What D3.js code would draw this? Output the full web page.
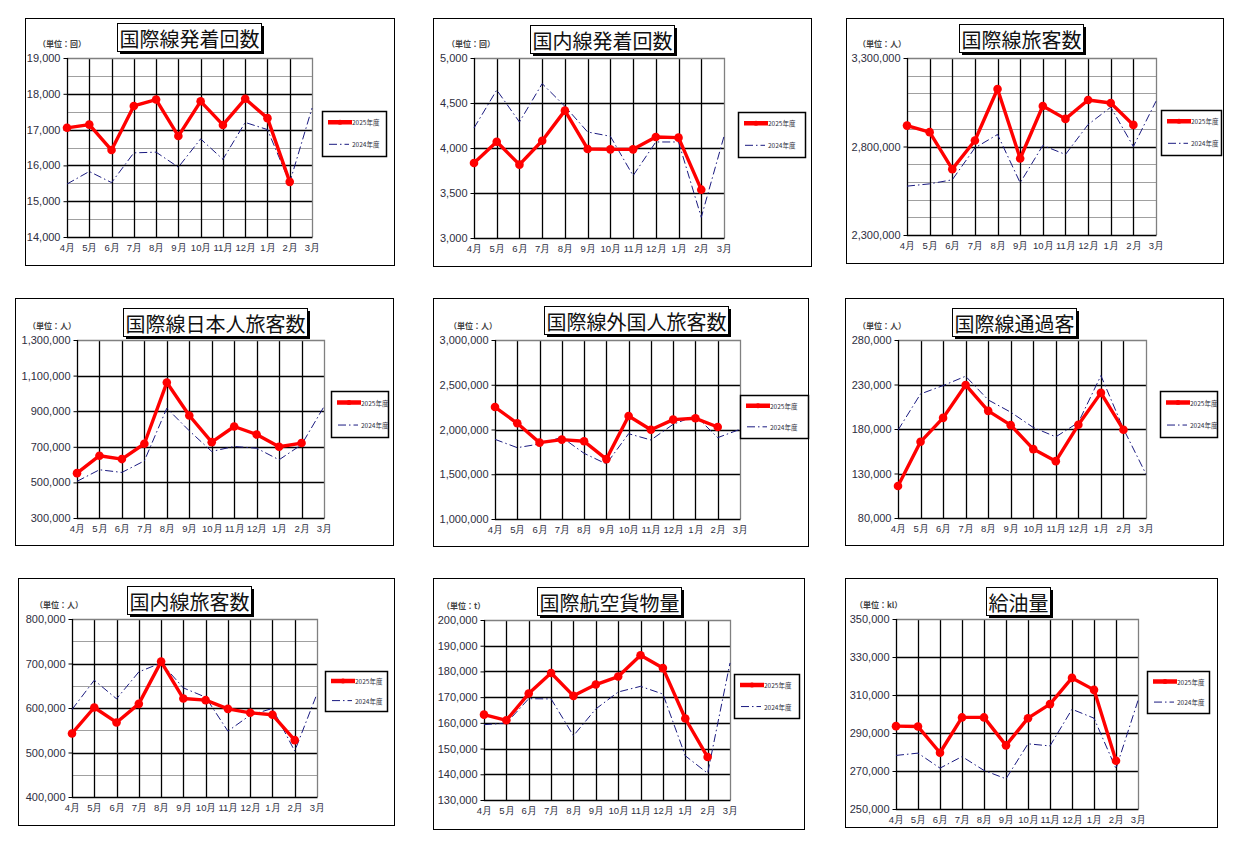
<!DOCTYPE html>
<html>
<head>
<meta charset="utf-8">
<script src="https://cdn.jsdelivr.net/npm/d3@7"></script>
<style>
  body { margin: 0; background: #fff; }
  svg { display: block; font-family: "Noto Sans CJK JP", "Noto Sans", sans-serif; }
</style>
</head>
<body>
<div id="chart"></div>
<script>
const months = ['4月', '5月', '6月', '7月', '8月', '9月', '10月', '11月', '12月', '1月', '2月', '3月'];
const seriesNames = ['2025年度', '2024年度'];

// 国際線発着回数
const intlFlights2025 = [17050, 17140, 16430, 17660, 17840, 16820, 17790, 17130, 17860, 17320, 15540];
const intlFlights2024 = [15480, 15830, 15520, 16350, 16370, 15950, 16740, 16170, 17200, 17000, 15520, 17600];
// 国内線発着回数
const domFlights2025 = [3833, 4070, 3815, 4081, 4415, 3989, 3985, 3985, 4122, 4115, 3537];
const domFlights2024 = [4222, 4644, 4289, 4715, 4463, 4178, 4130, 3693, 4067, 4067, 3230, 4130];
// 国際線旅客数
const intlPax2025 = [2918000, 2881000, 2672000, 2834000, 3125000, 2732000, 3029000, 2956000, 3063000, 3046000, 2922000];
const intlPax2024 = [2576000, 2589000, 2612000, 2792000, 2868000, 2595000, 2806000, 2755000, 2924000, 3022000, 2800000, 3056000];
// 国際線日本人旅客数
const jpPax2025 = [552000, 650000, 631000, 717000, 1061000, 876000, 726000, 814000, 769000, 700000, 721000];
const jpPax2024 = [506000, 571000, 556000, 621000, 917000, 790000, 674000, 702000, 692000, 627000, 712000, 926000];
// 国際線外国人旅客数
const fgPax2025 = [2251000, 2069000, 1853000, 1887000, 1868000, 1669000, 2151000, 1998000, 2110000, 2125000, 2028000];
const fgPax2024 = [1890000, 1797000, 1838000, 1913000, 1734000, 1615000, 1953000, 1883000, 2058000, 2155000, 1909000, 2002000];
// 国際線通過客
const transit2025 = [115900, 165600, 192500, 229500, 200400, 184300, 157400, 143900, 184700, 220600, 179100];
const transit2024 = [178700, 219400, 228800, 239300, 212700, 198900, 181700, 171200, 187300, 240000, 180200, 129300];
// 国内線旅客数
const domPax2025 = [542800, 601100, 567500, 609300, 704300, 621300, 617600, 598100, 589200, 584700, 527900];
const domPax2024 = [596600, 662400, 620600, 681100, 701300, 645200, 624300, 548000, 584000, 599000, 503200, 631800];
// 国際航空貨物量
const cargo2025 = [163200, 161000, 171400, 179400, 170500, 174900, 178000, 186300, 181300, 161700, 146700];
const cargo2024 = [159300, 159900, 169400, 169300, 155000, 165400, 172000, 174200, 171200, 147200, 140400, 183300];
// 給油量
const fuel2025 = [293600, 293400, 279600, 298200, 298200, 283500, 297800, 305200, 319000, 312700, 275400];
const fuel2024 = [278200, 279400, 271500, 277600, 270300, 265900, 284300, 283200, 302500, 297800, 271200, 307100];

const charts = [
  { title: '国際線発着回数', unit: '回', domain: [14000, 19000], major: 1000, minor: 500, cur: intlFlights2025, prev: intlFlights2024 },
  { title: '国内線発着回数', unit: '回', domain: [3000, 5000], major: 500, minor: null, cur: domFlights2025, prev: domFlights2024 },
  { title: '国際線旅客数', unit: '人', domain: [2300000, 3300000], major: 500000, minor: 100000, cur: intlPax2025, prev: intlPax2024 },
  { title: '国際線日本人旅客数', unit: '人', domain: [300000, 1300000], major: 200000, minor: null, cur: jpPax2025, prev: jpPax2024 },
  { title: '国際線外国人旅客数', unit: '人', domain: [1000000, 3000000], major: 500000, minor: null, cur: fgPax2025, prev: fgPax2024 },
  { title: '国際線通過客', unit: '人', domain: [80000, 280000], major: 50000, minor: null, cur: transit2025, prev: transit2024 },
  { title: '国内線旅客数', unit: '人', domain: [400000, 800000], major: 100000, minor: 50000, cur: domPax2025, prev: domPax2024 },
  { title: '国際航空貨物量', unit: 't', domain: [130000, 200000], major: 10000, minor: null, cur: cargo2025, prev: cargo2024 },
  { title: '給油量', unit: 'kl', domain: [250000, 350000], major: 20000, minor: null, cur: fuel2025, prev: fuel2024 }
];

// panel layout: outer box, plot area, title centre/top, legend box, unit label x
const layout = [
  { box: [25, 18, 369, 247], plot: [67, 58, 312, 237], title: [189, 23], legend: [322, 111, 64, 45], unitX: 38 },
  { box: [433, 18, 378, 248], plot: [474, 58, 724, 238], title: [602, 25], legend: [738, 112, 67, 45], unitX: 447 },
  { box: [846, 18, 377, 245], plot: [907, 58, 1156, 235], title: [1021, 24], legend: [1161, 110, 60, 45], unitX: 858 },
  { box: [15, 298, 378, 247], plot: [77, 340, 324, 518], title: [215, 308], legend: [331, 391, 57, 46], unitX: 28 },
  { box: [433, 298, 375, 248], plot: [495, 340, 740, 519], title: [636, 306], legend: [740, 395, 68, 43], unitX: 449 },
  { box: [845, 298, 378, 247], plot: [898, 340, 1146, 518], title: [1014, 308], legend: [1160, 391, 57, 46], unitX: 858 },
  { box: [18, 578, 376, 247], plot: [72, 619, 317, 797], title: [189, 586], legend: [325, 671, 62, 40], unitX: 35 },
  { box: [433, 578, 371, 251], plot: [484, 620, 730, 800], title: [609, 587], legend: [734, 674, 65, 44], unitX: 442 },
  { box: [845, 578, 372, 249], plot: [896, 619, 1138, 809], title: [1018, 587], legend: [1147, 671, 62, 42], unitX: 855 }
];

const width = 1235;
const height = 841;
const svg = d3.select('#chart').append('svg')
    .attr('width', width)
    .attr('height', height);

const labelColor = '#2e2e3e';
const prevColor = '#1a1a80';
const prevDash = '8,3,1.5,3';

function renderPanel(cfg, lay) {
    const g = svg.append('g');
    const [bx, by, bw, bh] = lay.box;
    const [left, top, right, bottom] = lay.plot;

    g.append('rect')
        .attr('x', bx + 0.5).attr('y', by + 0.5)
        .attr('width', bw).attr('height', bh)
        .attr('fill', 'white').attr('stroke', 'black').attr('stroke-width', 1);

    const x = d3.scalePoint().domain(months).range([left, right]);
    const y = d3.scaleLinear().domain(cfg.domain).range([bottom, top]);

    const majors = d3.range(cfg.domain[0], cfg.domain[1] + 1, cfg.major);
    const minors = cfg.minor ? d3.range(cfg.domain[0], cfg.domain[1] + 1, cfg.minor).filter(v => !majors.includes(v)) : [];

    // minor gridlines
    g.append('g').selectAll('line').data(minors).join('line')
        .attr('x1', left).attr('x2', right)
        .attr('y1', d => Math.round(y(d)) + 0.5).attr('y2', d => Math.round(y(d)) + 0.5)
        .attr('stroke', '#a0a0a0').attr('stroke-width', 1);

    // major gridlines
    g.append('g').selectAll('line').data(majors.filter(v => v !== cfg.domain[0] && v !== cfg.domain[1])).join('line')
        .attr('x1', left).attr('x2', right)
        .attr('y1', d => Math.round(y(d)) + 0.5).attr('y2', d => Math.round(y(d)) + 0.5)
        .attr('stroke', 'black').attr('stroke-width', 1.3);

    // month gridlines
    g.append('g').selectAll('line').data(months.slice(1, -1)).join('line')
        .attr('x1', d => Math.round(x(d)) + 0.5).attr('x2', d => Math.round(x(d)) + 0.5)
        .attr('y1', top).attr('y2', bottom)
        .attr('stroke', 'black').attr('stroke-width', 1.3);

    // plot frame: grey top/right, dark left/bottom
    g.append('path')
        .attr('d', `M${left},${top + 0.5}H${right + 0.5}V${bottom}`)
        .attr('fill', 'none').attr('stroke', '#808080').attr('stroke-width', 1.3);
    g.append('path')
        .attr('d', `M${left + 0.5},${top}V${bottom + 0.5}H${right + 0.5}`)
        .attr('fill', 'none').attr('stroke', 'black').attr('stroke-width', 1.3);

    // y axis
    const yAxis = d3.axisLeft(y).tickValues(majors).tickSize(4).tickPadding(3).tickFormat(d3.format(','));
    const ya = g.append('g').attr('transform', `translate(${left + 0.5},0)`).call(yAxis);
    ya.select('.domain').remove();
    ya.selectAll('line').attr('stroke', 'black');
    ya.selectAll('text').attr('font-size', '11px').attr('fill', labelColor);

    // x axis
    const xAxis = d3.axisBottom(x).tickSize(0).tickPadding(7);
    const xa = g.append('g').attr('transform', `translate(0,${bottom + 0.5})`).call(xAxis);
    xa.select('.domain').remove();
    xa.selectAll('text').attr('font-size', '9.5px').attr('fill', labelColor);

    // 2024 line
    const line = d3.line().x((d, i) => x(months[i])).y(d => y(d));
    g.append('path')
        .attr('d', line(cfg.prev))
        .attr('fill', 'none').attr('stroke', prevColor).attr('stroke-width', 1)
        .attr('stroke-dasharray', prevDash);

    // 2025 line
    g.append('path')
        .attr('d', line(cfg.cur))
        .attr('fill', 'none').attr('stroke', '#ff0000').attr('stroke-width', 3.4)
        .attr('stroke-linejoin', 'round');
    g.append('g').selectAll('circle').data(cfg.cur).join('circle')
        .attr('cx', (d, i) => x(months[i])).attr('cy', d => y(d))
        .attr('r', 4.3).attr('fill', '#ff0000');

    // unit label
    g.append('text')
        .attr('x', lay.unitX).attr('y', top - 15)
        .attr('dominant-baseline', 'central')
        .attr('font-size', '8px').attr('font-weight', 'bold').attr('fill', '#444')
        .text(`（単位：${cfg.unit}）`);

    // title with shadowed box
    const [tcx, tty] = lay.title;
    const tw = cfg.title.length * 20 + 4;
    const th = 28;
    g.append('rect')
        .attr('x', tcx - tw / 2 + 3).attr('y', tty + 3)
        .attr('width', tw).attr('height', th).attr('fill', 'black');
    g.append('rect')
        .attr('x', tcx - tw / 2 + 0.5).attr('y', tty + 0.5)
        .attr('width', tw).attr('height', th)
        .attr('fill', 'white').attr('stroke', 'black').attr('stroke-width', 1);
    g.append('text')
        .attr('x', tcx + 0.5).attr('y', tty + th / 2 + 1)
        .attr('text-anchor', 'middle').attr('dominant-baseline', 'central')
        .attr('font-size', '20px').attr('fill', '#111')
        .text(cfg.title);

    // legend
    const [lx, ly, lw, lh] = lay.legend;
    const lg = g.append('g');
    lg.append('rect')
        .attr('x', lx + 0.5).attr('y', ly + 0.5).attr('width', lw).attr('height', lh)
        .attr('fill', 'white').attr('stroke', 'black').attr('stroke-width', 1.5);
    const r1 = ly + lh * 0.25;
    const r2 = ly + lh * 0.74;
    lg.append('line')
        .attr('x1', lx + 6).attr('x2', lx + 30).attr('y1', r1).attr('y2', r1)
        .attr('stroke', '#ff0000').attr('stroke-width', 4.5);
    lg.append('circle').attr('cx', lx + 18).attr('cy', r1).attr('r', 2.5).attr('fill', '#ff0000');
    lg.append('line')
        .attr('x1', lx + 7).attr('x2', lx + 27).attr('y1', r2).attr('y2', r2)
        .attr('stroke', prevColor).attr('stroke-width', 1).attr('stroke-dasharray', prevDash);
    lg.selectAll('text').data(seriesNames).join('text')
        .attr('x', lx + 30).attr('y', (d, i) => i === 0 ? r1 : r2)
        .attr('dominant-baseline', 'central')
        .attr('font-size', '6.5px').attr('fill', labelColor)
        .text(d => d);
}

charts.forEach((cfg, i) => renderPanel(cfg, layout[i]));
</script>
</body>
</html>
